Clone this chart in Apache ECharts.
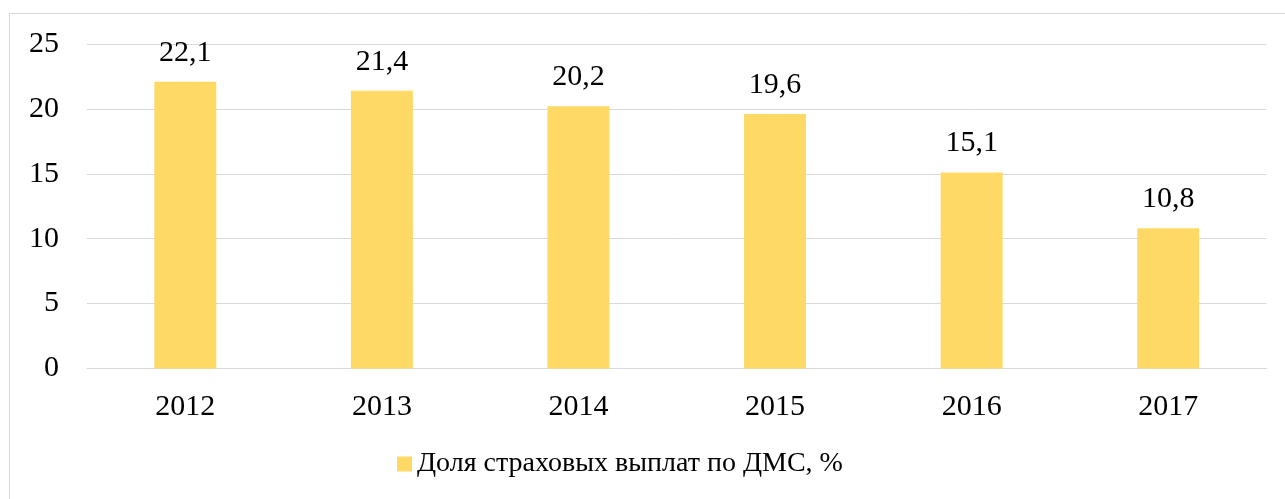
<!DOCTYPE html>
<html>
<head>
<meta charset="utf-8">
<script src="https://cdn.jsdelivr.net/npm/echarts@6/dist/echarts.min.js"></script>
<style>
html,body{margin:0;padding:0;background:#fff;}
#chart{width:1285px;height:499px;}
</style>
</head>
<body>
<div id="chart"></div>
<script>
const categories = ['2012', '2013', '2014', '2015', '2016', '2017'];
const values = [22.1, 21.4, 20.2, 19.6, 15.1, 10.8];
const seriesName = 'Доля страховых выплат по ДМС, %';
const yTicks = [0, 5, 10, 15, 20, 25];

const FONT = '"Liberation Serif", "Times New Roman", serif';
const chart = echarts.init(document.getElementById('chart'), null, {renderer: 'canvas'});
chart.setOption({
  animation: false,
  backgroundColor: '#fff',
  graphic: [{
    type: 'rect',
    silent: true,
    shape: {x: 9.5, y: 13.5, width: 1320, height: 520},
    style: {fill: 'none', stroke: '#d9d9d9', lineWidth: 1}
  }],
  grid: {left: 87, right: 18.5, top: 44, bottom: 130.5, containLabel: false},
  legend: {
    data: [seriesName],
    top: 450,
    left: 397,
    padding: 0,
    itemWidth: 15,
    itemHeight: 15,
    itemGap: 5,
    icon: 'rect',
    textStyle: {fontFamily: FONT, fontSize: 28, color: '#000', padding: [0, 0, 0, 0]}
  },
  xAxis: {
    type: 'category',
    data: categories,
    axisLine: {show: true, lineStyle: {color: '#d9d9d9', width: 1}},
    axisTick: {show: false},
    axisLabel: {fontFamily: FONT, fontSize: 30, color: '#000', margin: 24}
  },
  yAxis: {
    type: 'value',
    min: yTicks[0],
    max: yTicks[yTicks.length - 1],
    interval: 5,
    axisLine: {show: false},
    axisTick: {show: false},
    splitLine: {lineStyle: {color: '#d9d9d9', width: 1}},
    axisLabel: {fontFamily: FONT, fontSize: 30, color: '#000', margin: 28}
  },
  series: [{
    name: seriesName,
    type: 'bar',
    data: values,
    barWidth: 62,
    itemStyle: {color: '#FFD966'},
    label: {
      show: true,
      position: 'top',
      distance: 14,
      fontFamily: FONT,
      fontSize: 30,
      color: '#000',
      formatter: p => String(p.value).replace('.', ',')
    }
  }]
});
</script>
</body>
</html>
